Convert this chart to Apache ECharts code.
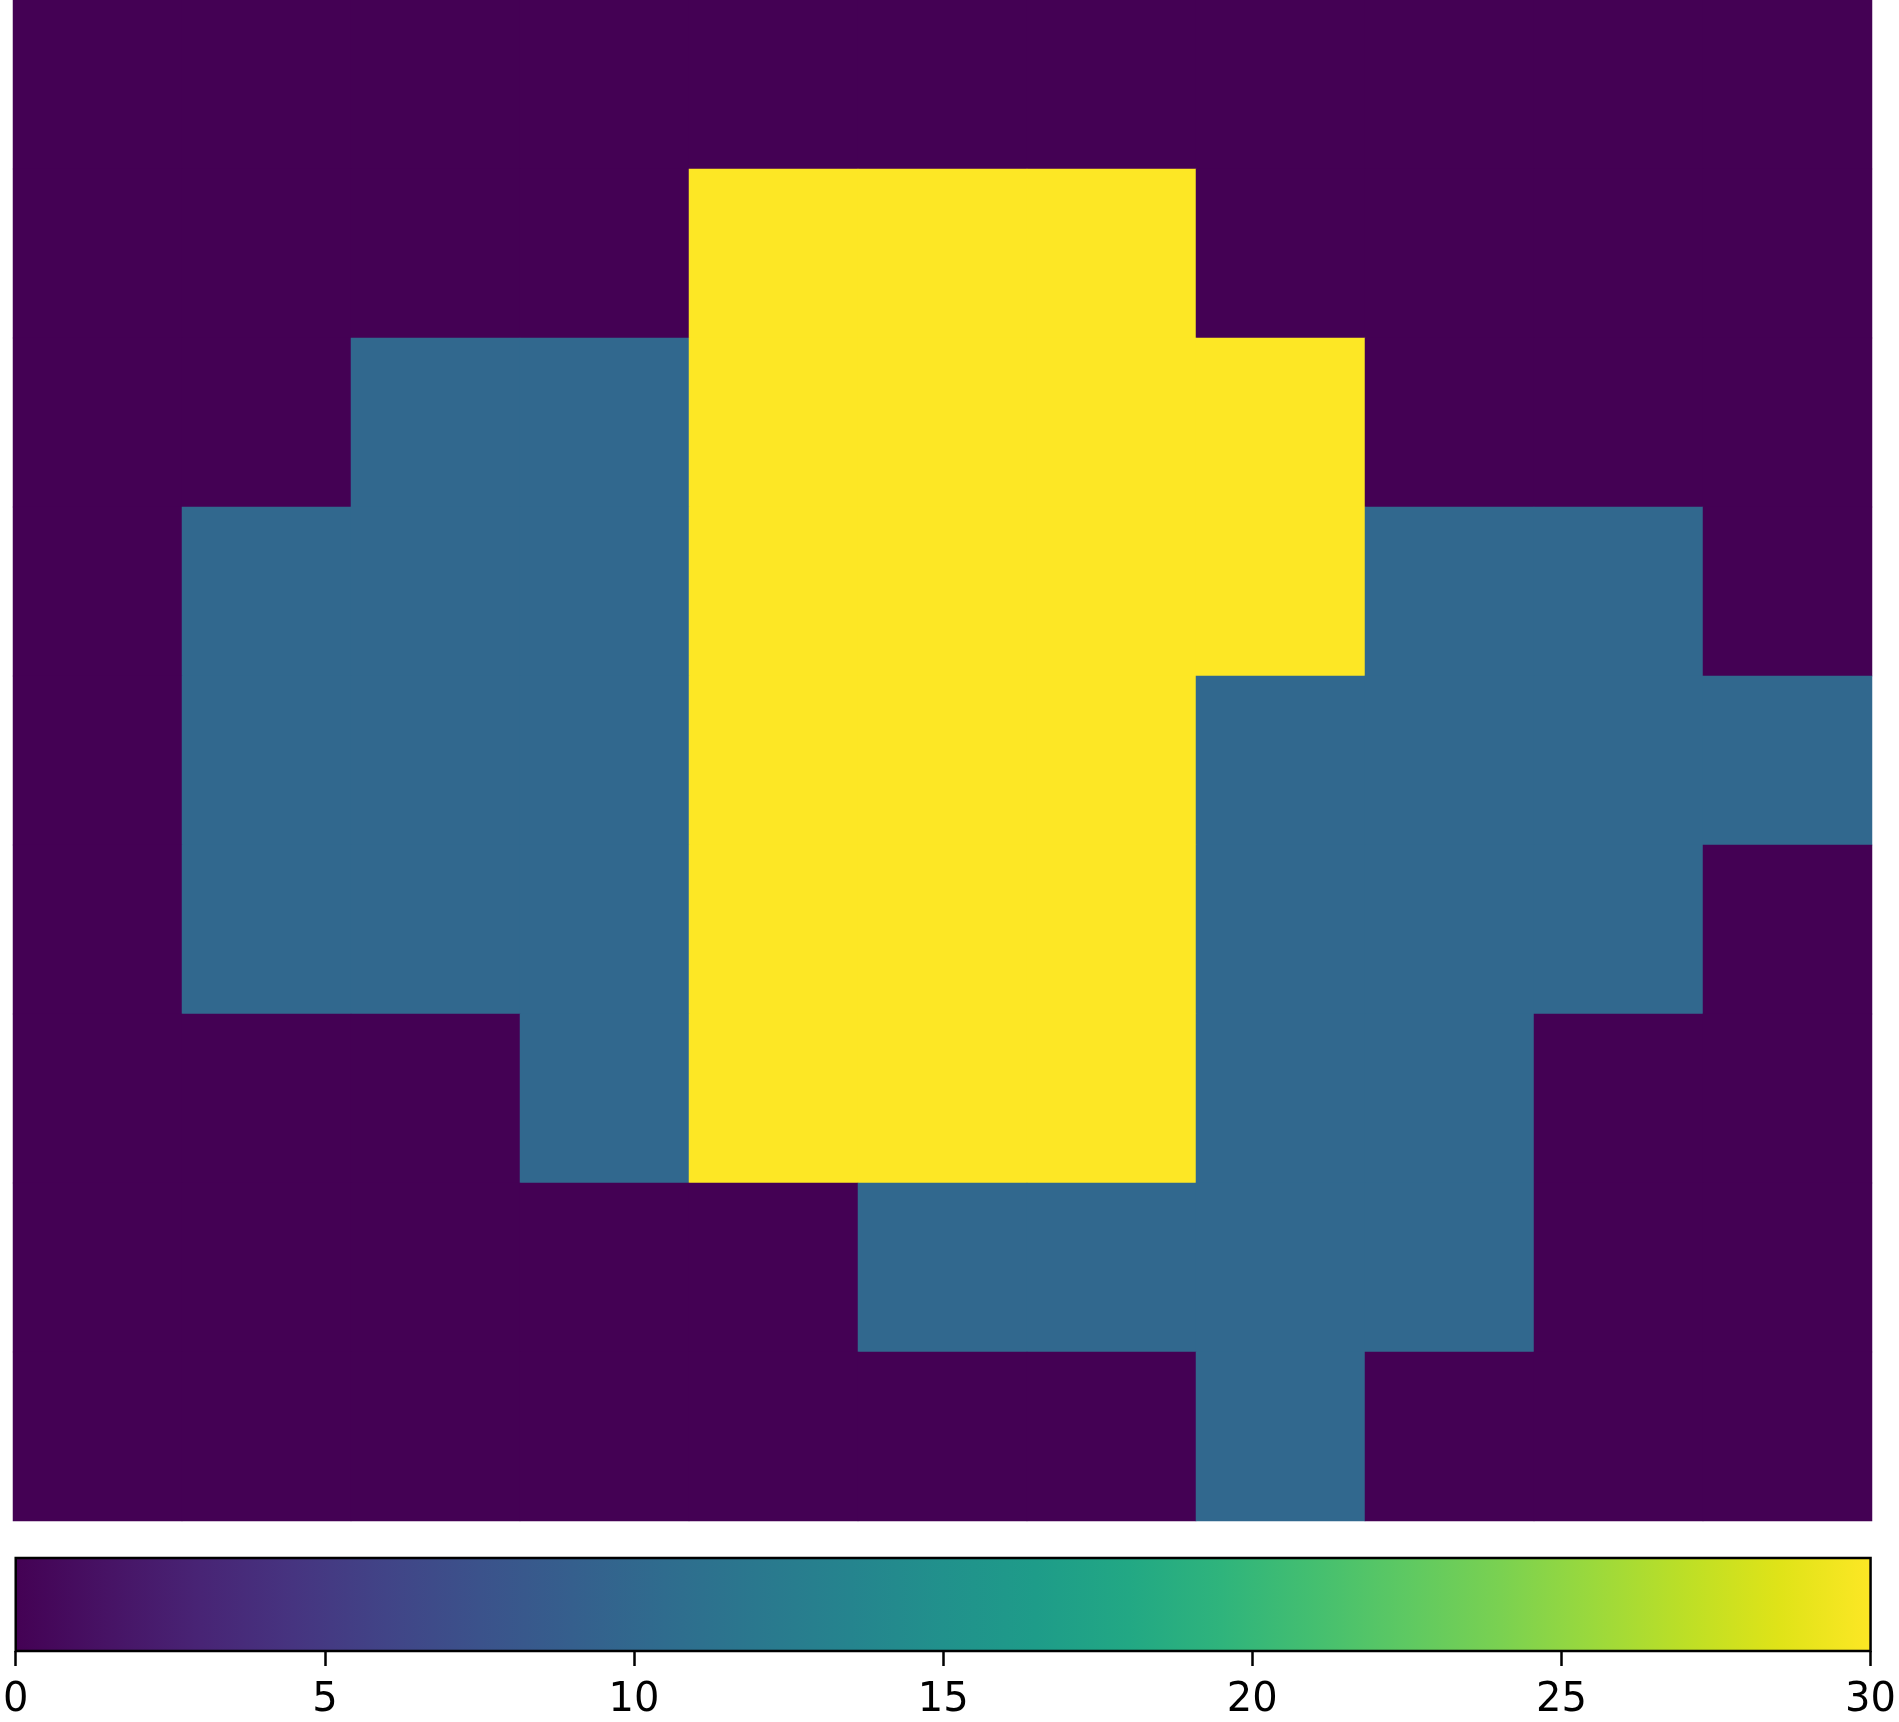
<!DOCTYPE html>
<html>
<head>
<meta charset="utf-8">
<script src="https://cdn.jsdelivr.net/npm/echarts@6/dist/echarts.min.js"></script>
<style>html,body{margin:0;padding:0;background:#fff;}#c{width:1899px;height:1722px;}</style>
</head>
<body>
<div id="c"></div>
<script>
// Data
var xCategories = ['0','1','2','3','4','5','6','7','8','9','10'];
var yCategories = ['0','1','2','3','4','5','6','7','8'];
var row0 = [0,0,0,0,0,0,0,0,0,0,0];
var row1 = [0,0,0,0,30,30,30,0,0,0,0];
var row2 = [0,0,10,10,30,30,30,30,0,0,0];
var row3 = [0,10,10,10,30,30,30,30,10,10,0];
var row4 = [0,10,10,10,30,30,30,10,10,10,10];
var row5 = [0,10,10,10,30,30,30,10,10,10,0];
var row6 = [0,0,0,10,30,30,30,10,10,0,0];
var row7 = [0,0,0,0,0,10,10,10,10,0,0];
var row8 = [0,0,0,0,0,0,0,10,0,0,0];
var rows = [row0,row1,row2,row3,row4,row5,row6,row7,row8];
var colorbarRange = [0, 30];
var colorbarTicks = [0,5,10,15,20,25,30];

var viridis = ['#440154','#471365','#482475','#463480','#414487','#3b528b','#355f8d','#2f6c8e','#2a788e','#25848e','#21918c','#1e9c89','#22a884','#2fb47c','#44bf70','#5ec962','#7ad151','#9bd93c','#bddf26','#dfe318','#fde725'];

var data = [];
rows.forEach(function(r, yi){ r.forEach(function(v, xi){ data.push([xi, yi, v]); }); });

var chart = echarts.init(document.getElementById('c'));
chart.setOption({
  animation: false,
  backgroundColor: '#ffffff',
  grid: [
    {left: 13, top: 0, width: 1859, height: 1521},
    {left: 13, top: 1558, width: 1860, height: 93}
  ],
  xAxis: [
    {type: 'category', data: xCategories, gridIndex: 0, show: false},
    {type: 'value', gridIndex: 1, min: colorbarRange[0], max: colorbarRange[1], interval: 5,
     position: 'bottom',
     axisLine: {show: false},
     axisTick: {show: true, length: 15, lineStyle: {color: '#000', width: 2.5}},
     splitLine: {show: false},
     axisLabel: {show: true, margin: 30, fontSize: 40, color: '#000', fontFamily: 'DejaVu Sans'}}
  ],
  yAxis: [
    {type: 'category', data: yCategories, gridIndex: 0, inverse: true, show: false},
    {type: 'value', gridIndex: 1, min: 0, max: 1, show: false}
  ],
  visualMap: {
    type: 'continuous', show: false, min: colorbarRange[0], max: colorbarRange[1],
    dimension: 2, seriesIndex: 0, inRange: {color: viridis}
  },
  series: [
    {type: 'heatmap', xAxisIndex: 0, yAxisIndex: 0, data: data, itemStyle: {borderWidth: 0}},
    {type: 'custom', xAxisIndex: 1, yAxisIndex: 1, data: [[colorbarRange[0], colorbarRange[1]]],
     renderItem: function(params, api){
       var p0 = api.coord([api.value(0), 0]);
       var p1 = api.coord([api.value(1), 1]);
       var stops = viridis.map(function(c, i){ return {offset: i/(viridis.length-1), color: c}; });
       return {
         type: 'rect',
         shape: {x: p0[0], y: p1[1], width: p1[0]-p0[0], height: p0[1]-p1[1]},
         style: {fill: new echarts.graphic.LinearGradient(0,0,1,0,stops), stroke: '#000', lineWidth: 2.5}
       };
     }}
  ]
});
</script>
</body>
</html>
